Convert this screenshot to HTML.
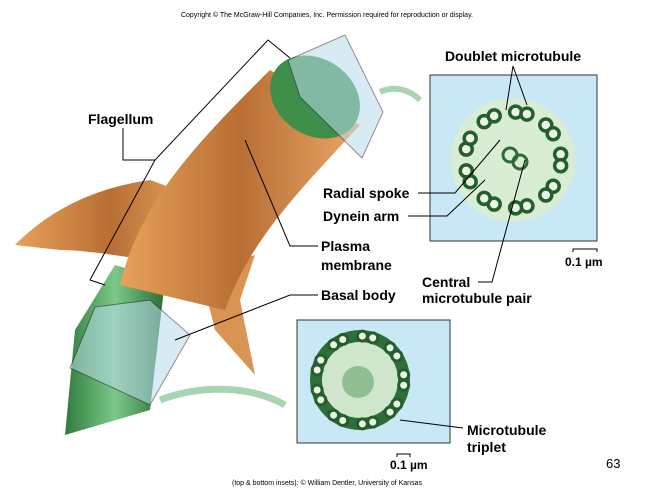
<!DOCTYPE html>
<html><head><meta charset="utf-8">
<style>
html,body{margin:0;padding:0;background:#fff;}
svg{display:block;font-family:"Liberation Sans",sans-serif;}
.lbl{font-size:14px;font-weight:bold;fill:#000;}
.ln{stroke:#000;stroke-width:1;fill:none;}
</style></head>
<body>
<svg id="s" width="661" height="498" viewBox="0 0 661 498">
<defs>
<linearGradient id="org" x1="0" y1="0" x2="1" y2="0">
<stop offset="0" stop-color="#e8a25a"/><stop offset="0.5" stop-color="#b86e34"/><stop offset="1" stop-color="#e9a865"/>
</linearGradient>
<linearGradient id="grn" x1="0" y1="0" x2="1" y2="0">
<stop offset="0" stop-color="#2f7d3c"/><stop offset="0.5" stop-color="#7cc88a"/><stop offset="1" stop-color="#2a6e35"/>
</linearGradient>
</defs>
<text x="327" y="17" font-size="7" text-anchor="middle">Copyright © The McGraw-Hill Companies, Inc. Permission required for reproduction or display.</text>

<path d="M15,245 C40,220 80,190 150,180 L205,200 L200,270 C150,260 90,250 60,250 Z" fill="url(#org)"/>
<path d="M200,270 L255,255 L240,300 L255,375 L215,330 Z" fill="#d99353"/>
<path d="M115,265 L165,280 L150,410 L65,435 L75,330 Z" fill="url(#grn)"/>
<path d="M120,285 C140,200 200,140 270,70 L360,125 C300,190 250,240 225,310 Z" fill="url(#org)"/>
<ellipse cx="315" cy="97" rx="48" ry="38" transform="rotate(35 315 97)" fill="#3f8f4b"/>
<polygon points="288,60 345,35 383,112 362,158 300,97" fill="#b9dcec" opacity="0.55" stroke="#333"/>
<polygon points="95,307 150,300 190,335 150,405 70,368" fill="#b9dcec" opacity="0.55" stroke="#333"/>
<path d="M90,280 L155,160 L268,40 L290,58" class="ln"/>
<path d="M90,280 L105,285" class="ln"/>
<text x="88" y="124" class="lbl">Flagellum</text>
<path d="M123,128 L123,160 L155,160" class="ln"/>

<path d="M380,92 C395,85 410,90 420,100" stroke="#a8d5b0" stroke-width="6" fill="none"/>
<path d="M160,400 C200,385 250,385 285,405" stroke="#a8d5b0" stroke-width="7" fill="none"/>

<rect x="430" y="75" width="167" height="166" fill="#c8e8f5" stroke="#333"/>
<circle cx="513" cy="160" r="62" fill="#d9ecd4"/>
<g id="ring1"></g>
<circle cx="520" cy="162" r="7" fill="none" stroke="#2d6b36" stroke-width="3"/>
<circle cx="510" cy="155" r="7" fill="none" stroke="#2d6b36" stroke-width="3"/>

<rect x="297" y="320" width="153" height="123" fill="#c8e8f5" stroke="#333"/>
<circle cx="360" cy="380" r="50" fill="#2f6e38"/>
<circle cx="360" cy="380" r="38" fill="#cfe6cc"/>
<circle cx="358" cy="382" r="16" fill="#8fbf92"/>
<g id="ring2"></g>

<text x="513" y="61" class="lbl" text-anchor="middle">Doublet microtubule</text>
<path d="M513,66 L506,110 M513,66 L527,105" class="ln"/>
<text x="323" y="198" class="lbl">Radial spoke</text>
<path d="M418,193 L455,193 L500,140" class="ln"/>
<text x="323" y="221" class="lbl">Dynein arm</text>
<path d="M408,216 L447,216 L485,180" class="ln"/>
<text x="321" y="251" class="lbl">Plasma</text>
<text x="321" y="270" class="lbl">membrane</text>
<path d="M318,246 L290,246 L245,140" class="ln"/>
<text x="321" y="300" class="lbl">Basal body</text>
<path d="M318,295 L290,295 L175,340" class="ln"/>
<text x="422" y="287" class="lbl">Central</text>
<text x="422" y="303" class="lbl">microtubule pair</text>
<path d="M478,282 L492,282 L525,160" class="ln"/>
<path d="M573,252 L573,249 L597,249 L597,252" class="ln"/>
<text x="565" y="266" font-size="12" font-weight="bold">0.1 µm</text>
<text x="467" y="435" class="lbl">Microtubule</text>
<text x="467" y="452" class="lbl">triplet</text>
<path d="M463,428 L400,420" class="ln"/>
<path d="M397,457 L397,454 L410,454 L410,457" class="ln"/>
<text x="390" y="469" font-size="12" font-weight="bold">0.1 µm</text>
<text x="606" y="468" font-size="13">63</text>
<text x="327" y="485" font-size="7" text-anchor="middle">(top &amp; bottom insets): © William Dentler, University of Kansas</text>
</svg>
<script>
var NS="http://www.w3.org/2000/svg";
function ring(id,cx,cy,r,n,rad,sw){
  var g=document.getElementById(id);
  for(var i=0;i<n;i++){
    var a=i/n*Math.PI*2;
    for(var k=0;k<2;k++){
      var c=document.createElementNS(NS,"circle");
      var aa=a+(k?0.12:-0.12);
      c.setAttribute("cx",cx+Math.cos(aa)*r);
      c.setAttribute("cy",cy+Math.sin(aa)*r);
      c.setAttribute("r",rad);
      c.setAttribute("fill","#eaf5e6");
      c.setAttribute("stroke","#245e2d");
      c.setAttribute("stroke-width",sw);
      
      
      g.appendChild(c);
    }
  }
}
ring("ring1",513,160,48,9,6,3.5);
ring("ring2",360,380,44,9,5,3);
</script>
</body></html>
